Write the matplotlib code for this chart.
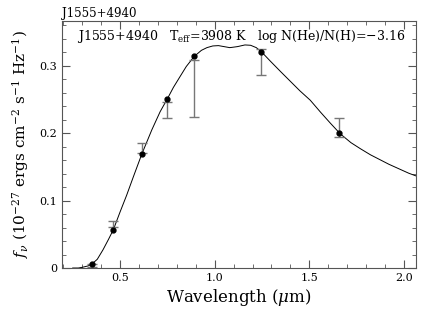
import numpy as np
import matplotlib
matplotlib.use("Agg")
import matplotlib.pyplot as plt
from matplotlib.ticker import MultipleLocator

# model spectrum
model_wave = [0.25, 0.28, 0.30, 0.33, 0.35, 0.38, 0.41, 0.44, 0.465, 0.50, 0.535, 0.57,
              0.615, 0.668, 0.712, 0.75, 0.782, 0.817, 0.85, 0.892, 0.93, 0.959, 0.99,
              1.02, 1.05, 1.08, 1.12, 1.16, 1.19, 1.22, 1.25, 1.294, 1.35, 1.40, 1.45,
              1.505, 1.56, 1.611, 1.664, 1.72, 1.77, 1.823, 1.92, 2.025, 2.07]
model_flux = [0.0, 0.0, 0.001, 0.003, 0.0055, 0.013, 0.027, 0.043, 0.057, 0.083, 0.108, 0.135,
              0.169, 0.205, 0.232, 0.251, 0.268, 0.284, 0.299, 0.314, 0.323, 0.327, 0.3295,
              0.330, 0.3285, 0.327, 0.3285, 0.331, 0.3305, 0.327, 0.320, 0.307, 0.291, 0.277, 0.263,
              0.249, 0.231, 0.215, 0.199, 0.186, 0.177, 0.168, 0.154, 0.1407, 0.136]

# synthetic photometry of the model
phot_wave = [0.35, 0.465, 0.615, 0.747, 0.892, 1.245, 1.659]
phot_flux = [0.0055, 0.0565, 0.169, 0.251, 0.314, 0.320, 0.200]

# observed fluxes with errors
obs_flux = [0.004, 0.0655, 0.1775, 0.234, 0.266, 0.306, 0.2085]
obs_err = [0.0025, 0.0045, 0.0075, 0.012, 0.042, 0.019, 0.0145]

plt.rcParams["font.family"] = "DejaVu Serif"
plt.rcParams["mathtext.fontset"] = "dejavuserif"

fig = plt.figure(figsize=(4.36, 3.12), dpi=100)
ax = fig.add_axes([0.142, 0.141, 0.8114, 0.7927])

ax.plot(model_wave, model_flux, color="black", lw=0.7)
ax.errorbar(phot_wave, obs_flux, yerr=obs_err, fmt="none", ecolor="#777777",
            elinewidth=1.0, capsize=3.6, capthick=1.0)
ax.plot(phot_wave, phot_flux, "o", color="black", ms=3.5)

ax.set_xlim(0.193, 2.062)
ax.set_ylim(0, 0.367)
ax.xaxis.set_major_locator(MultipleLocator(0.5))
ax.xaxis.set_minor_locator(MultipleLocator(0.1))
ax.yaxis.set_major_locator(MultipleLocator(0.1))
ax.yaxis.set_minor_locator(MultipleLocator(0.02))
ax.set_xticks([0.5, 1.0, 1.5, 2.0])
ax.set_xticklabels(["0.5", "1.0", "1.5", "2.0"])
ax.set_yticks([0, 0.1, 0.2, 0.3])
ax.set_yticklabels(["0", "0.1", "0.2", "0.3"])
ax.tick_params(which="both", direction="in", top=True, right=True, labelsize=8,
               color="#555555")
ax.tick_params(which="major", length=6)
ax.tick_params(which="minor", length=3)
for s in ax.spines.values():
    s.set_color("#555555")
    s.set_linewidth(0.8)

ax.set_xlabel(r"Wavelength ($\mu$m)", fontsize=12, labelpad=3)
ax.set_ylabel(r"$f_\nu$ (10$^{-27}$ ergs cm$^{-2}$ s$^{-1}$ Hz$^{-1}$)", fontsize=11,
              labelpad=6)
ax.text(0.042, 0.938, r"J1555+4940   T$_{\rm eff}$=3908 K   log N(He)/N(H)=$-$3.16",
        transform=ax.transAxes, fontsize=9.0, va="center", ha="left")
ax.set_title("J1555+4940", loc="left", fontsize=8.5, pad=3)

fig.savefig("out.png", dpi=100)
